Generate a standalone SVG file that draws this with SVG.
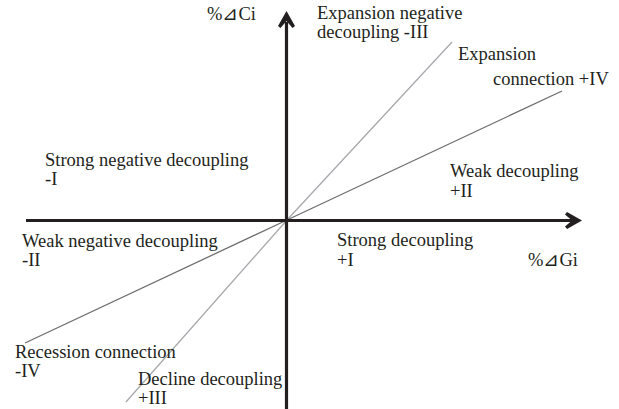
<svg xmlns="http://www.w3.org/2000/svg" width="619" height="409" viewBox="0 0 619 409">
<style>
text{font-family:"Liberation Serif","Times New Roman",serif;font-size:18.5px;fill:#231f20}
.ax{stroke:#231f20;stroke-width:3.2;fill:none}
.head{fill:#231f20}
.l1{stroke:#a7a9ac;stroke-width:1.3;fill:none}
.l2{stroke:#6d6e71;stroke-width:1.3;fill:none}
</style>
<rect width="619" height="409" fill="#fff"/>
<g id="connectors">
<polyline class="l1" points="452,42 287,220 126,402"/>
<polyline class="l2" points="562,91 287,220 25,343"/>
<line class="ax" x1="26" y1="220.5" x2="574" y2="220.5"/>
<line class="ax" x1="286.5" y1="22" x2="286.5" y2="409"/>
<polygon class="head" points="582,220.5 567,212 565,214.5 572,220.5 565,226.5 567,229"/>
<polygon class="head" points="286.5,11 278,26 280.5,28 286.5,21 292.5,28 295,26"/>
</g>
<g id="axis-y-label"><text x="207" y="20">%⊿Ci</text></g>
<g id="axis-x-label"><text x="528" y="266">%⊿Gi</text></g>
<g id="expansion-negative-decoupling"><text x="317" y="19">Expansion negative</text><text x="317" y="38">decoupling -III</text></g>
<g id="expansion-connection"><text x="458" y="60">Expansion</text><text x="493" y="85">connection +IV</text></g>
<g id="strong-negative-decoupling"><text x="45" y="166">Strong negative decoupling</text><text x="45" y="185">-I</text></g>
<g id="weak-decoupling"><text x="450" y="177">Weak decoupling</text><text x="450" y="197">+II</text></g>
<g id="weak-negative-decoupling"><text x="22" y="247">Weak negative decoupling</text><text x="22" y="266">-II</text></g>
<g id="strong-decoupling"><text x="337" y="246">Strong decoupling</text><text x="337" y="266">+I</text></g>
<g id="recession-connection"><text x="15" y="358">Recession connection</text><text x="15" y="377">-IV</text></g>
<g id="decline-decoupling"><text x="138" y="385">Decline decoupling</text><text x="138" y="404">+III</text></g>
</svg>
